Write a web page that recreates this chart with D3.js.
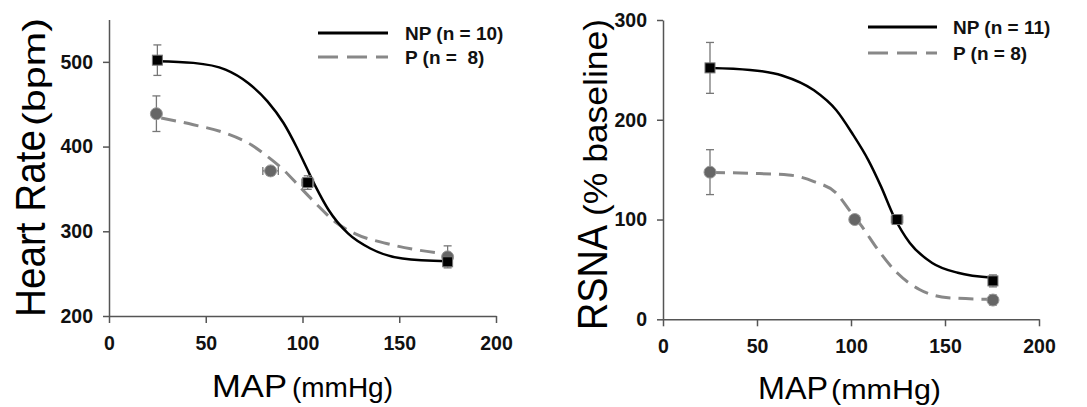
<!DOCTYPE html>
<html>
<head>
<meta charset="utf-8">
<script src="https://cdn.jsdelivr.net/npm/d3@7"></script>
<style>
  body { margin: 0; background: #fff; }
  svg text { font-family: Arial, "Liberation Sans", sans-serif; }
</style>
</head>
<body>
<div id="chart"></div>
<script>
// ---- data ----
// Heart rate panel
const hrNpX = [25, 102.7, 175];
const hrNpY = [502, 357.5, 264];
const hrNpYErr = [18, 8, 4];
const hrNpXErr = [0, 3, 0];
const hrPX = [24.5, 83.5, 175];
const hrPY = [438.8, 371.3, 269.8];
const hrPYErr = [21, 5, 13];
const hrPXErr = [0, 4, 0];
// fitted curves, traced point by point
const hrNpCurveX = [25, 43.6, 60.2, 71.9, 81.9, 90.2, 96.8, 101.8, 106.8, 113.5, 123.5, 135.1, 151.7, 175];
const hrNpCurveY = [500.8, 498.8, 490.9, 475.1, 453.4, 427.8, 400.1, 376.4, 352.7, 325.1, 297.5, 279.7, 267.9, 264.5];
const hrPCurveX = [27, 43.6, 60.2, 73.5, 81.9, 90.2, 98.5, 106.8, 116.8, 126.8, 143.4, 160.1, 175];
const hrPCurveY = [433.7, 425.8, 415.9, 402.1, 388.3, 372.5, 352.7, 333, 311.3, 297.5, 285.6, 277.7, 273];

// RSNA panel
const rsNpX = [25, 124.5, 175.5];
const rsNpY = [252, 100, 38.5];
const rsNpYErr = [25.5, 3, 6];
const rsNpXErr = [0, 3, 0];
const rsPX = [25, 102, 175.5];
const rsPY = [147.5, 100, 19.3];
const rsPYErr = [22.5, 2, 5];
const rsPXErr = [0, 1, 0];
const rsNpCurveX = [25, 46.3, 63.3, 80.3, 92.2, 100.7, 109.2, 116, 122.8, 131.3, 143.2, 156.8, 175.5];
const rsNpCurveY = [252, 250, 244.4, 229.5, 209.5, 186.2, 159.6, 133, 103.1, 76.5, 56.5, 46.6, 41.6];
const rsPCurveX = [25, 46.3, 66.7, 80.3, 92.2, 99, 105.8, 114.3, 124.5, 136.4, 151.7, 175.5];
const rsPCurveY = [147.3, 146.3, 144.7, 138, 126.4, 109.7, 93.1, 69.8, 46.6, 29.9, 21.6, 20];

const xTicks = [0, 50, 100, 150, 200];
const hrTicks = [200, 300, 400, 500];
const rsTicks = [0, 100, 200, 300];

const W = 1087, H = 407;

const svg = d3.select("#chart").append("svg")
    .attr("width", W)
    .attr("height", H);

svg.append("rect").attr("width", W).attr("height", H).attr("fill", "#fff");

function zip(xs, ys, ex, ey) {
    return xs.map((v, i) => ({x: v, y: ys[i], ex: ex ? ex[i] : 0, ey: ey ? ey[i] : 0}));
}

function panel(cfg) {
    const x = d3.scaleLinear().domain([0, 200]).range(cfg.xRange);
    const y = d3.scaleLinear().domain(cfg.yDomain).range(cfg.yRange);
    const g = svg.append("g");

    // axes
    const ax = g.append("g")
        .attr("transform", `translate(0,${cfg.yRange[0]})`)
        .call(d3.axisBottom(x).tickValues(xTicks).tickSize(7).tickSizeOuter(0).tickPadding(13));
    const ay = g.append("g")
        .attr("transform", `translate(${cfg.xRange[0]},0)`)
        .call(d3.axisLeft(y).tickValues(cfg.yTicks).tickSize(6).tickSizeOuter(0).tickPadding(10));
    [ax, ay].forEach(a => {
        a.selectAll("path, line").attr("stroke", "#555").attr("stroke-width", 1.5);
        a.selectAll("text")
            .attr("fill", "#111")
            .style("font-size", "19.5px")
            .style("font-weight", "bold");
    });

    const line = d3.line()
        .x(d => x(d.x))
        .y(d => y(d.y))
        .curve(d3.curveMonotoneX);

    // fitted curves
    g.append("path")
        .datum(zip(cfg.pCurveX, cfg.pCurveY))
        .attr("d", line)
        .attr("fill", "none")
        .attr("stroke", "#888")
        .attr("stroke-width", 3)
        .attr("stroke-dasharray", "15,8");
    g.append("path")
        .datum(zip(cfg.npCurveX, cfg.npCurveY))
        .attr("d", line)
        .attr("fill", "none")
        .attr("stroke", "#000")
        .attr("stroke-width", 2.5);

    // error bars
    const bars = zip(cfg.npX, cfg.npY, cfg.npXErr, cfg.npYErr)
        .concat(zip(cfg.pX, cfg.pY, cfg.pXErr, cfg.pYErr));
    const eb = g.append("g").attr("stroke", "#777").attr("stroke-width", 1.3);
    bars.forEach(d => {
        if (d.ey > 0) {
            eb.append("line").attr("x1", x(d.x)).attr("x2", x(d.x))
                .attr("y1", y(d.y - d.ey)).attr("y2", y(d.y + d.ey));
            [d.y - d.ey, d.y + d.ey].forEach(v => {
                eb.append("line").attr("x1", x(d.x) - 4).attr("x2", x(d.x) + 4)
                    .attr("y1", y(v)).attr("y2", y(v));
            });
        }
        if (d.ex > 0) {
            eb.append("line").attr("y1", y(d.y)).attr("y2", y(d.y))
                .attr("x1", x(d.x - d.ex)).attr("x2", x(d.x + d.ex));
            [d.x - d.ex, d.x + d.ex].forEach(v => {
                eb.append("line").attr("y1", y(d.y) - 4).attr("y2", y(d.y) + 4)
                    .attr("x1", x(v)).attr("x2", x(v));
            });
        }
    });

    // markers
    g.selectAll(".pdot")
        .data(zip(cfg.pX, cfg.pY))
        .join("circle")
            .attr("cx", d => x(d.x))
            .attr("cy", d => y(d.y))
            .attr("r", 6)
            .attr("fill", "#666")
            .attr("stroke", "#999")
            .attr("stroke-width", 1);
    g.selectAll(".npdot")
        .data(zip(cfg.npX, cfg.npY))
        .join("rect")
            .attr("x", d => x(d.x) - 5)
            .attr("y", d => y(d.y) - 5)
            .attr("width", 10)
            .attr("height", 10)
            .attr("fill", "#000")
            .attr("stroke", "#777")
            .attr("stroke-width", 1);

    // legend
    const lg = cfg.legend;
    g.append("line").attr("x1", lg.x1).attr("x2", lg.x2).attr("y1", lg.y1).attr("y2", lg.y1)
        .attr("stroke", "#000").attr("stroke-width", 3);
    g.append("line").attr("x1", lg.x1).attr("x2", lg.x2).attr("y1", lg.y2).attr("y2", lg.y2)
        .attr("stroke", "#888").attr("stroke-width", 3).attr("stroke-dasharray", "20,9");
    [[lg.npLabel, lg.y1], [lg.pLabel, lg.y2]].forEach(([t, yy]) => {
        g.append("text").attr("x", lg.tx).attr("y", yy + 7)
            .style("font-size", "19px").style("font-weight", "bold")
            .attr("fill", "#111")
            .attr("xml:space", "preserve")
            .text(t);
    });

    // axis titles
    cfg.yTitle.forEach(p => {
        g.append("text")
            .attr("transform", `translate(${p.x},${p.y}) rotate(-90)`)
            .style("font-size", p.size + "px")
            .attr("textLength", p.len)
            .attr("lengthAdjust", "spacingAndGlyphs")
            .attr("fill", "#000")
            .text(p.text);
    });
    cfg.xTitle.forEach(p => {
        g.append("text")
            .attr("x", p.x).attr("y", p.y)
            .style("font-size", p.size + "px")
            .attr("textLength", p.len)
            .attr("lengthAdjust", "spacingAndGlyphs")
            .attr("fill", "#000")
            .text(p.text);
    });
}

panel({
    xRange: [109, 496],
    yDomain: [200, 550],
    yRange: [316, 19.5],
    yTicks: hrTicks,
    npX: hrNpX, npY: hrNpY, npXErr: hrNpXErr, npYErr: hrNpYErr,
    pX: hrPX, pY: hrPY, pXErr: hrPXErr, pYErr: hrPYErr,
    npCurveX: hrNpCurveX, npCurveY: hrNpCurveY,
    pCurveX: hrPCurveX, pCurveY: hrPCurveY,
    legend: {x1: 318, x2: 388, y1: 33, y2: 57, tx: 405, npLabel: "NP (n = 10)", pLabel: "P (n =  8)"},
    yTitle: [
        {text: "Heart Rate", x: 45, y: 317, size: 43, len: 187},
        {text: "(bpm)", x: 45, y: 126, size: 32, len: 108}
    ],
    xTitle: [
        {text: "MAP", x: 212, y: 397, size: 31, len: 75},
        {text: "(mmHg)", x: 292, y: 397, size: 28, len: 101}
    ]
});

panel({
    xRange: [663, 1039],
    yDomain: [0, 300],
    yRange: [319.3, 20],
    yTicks: rsTicks,
    npX: rsNpX, npY: rsNpY, npXErr: rsNpXErr, npYErr: rsNpYErr,
    pX: rsPX, pY: rsPY, pXErr: rsPXErr, pYErr: rsPYErr,
    npCurveX: rsNpCurveX, npCurveY: rsNpCurveY,
    pCurveX: rsPCurveX, pCurveY: rsPCurveY,
    legend: {x1: 868, x2: 937, y1: 27, y2: 53, tx: 953, npLabel: "NP (n = 11)", pLabel: "P (n = 8)"},
    yTitle: [
        {text: "RSNA", x: 607, y: 330, size: 43, len: 105},
        {text: "(% baseline)", x: 607, y: 216, size: 34, len: 197}
    ],
    xTitle: [
        {text: "MAP", x: 758, y: 399, size: 31, len: 70},
        {text: "(mmHg)", x: 831, y: 399, size: 28, len: 110}
    ]
});
</script>
</body>
</html>
